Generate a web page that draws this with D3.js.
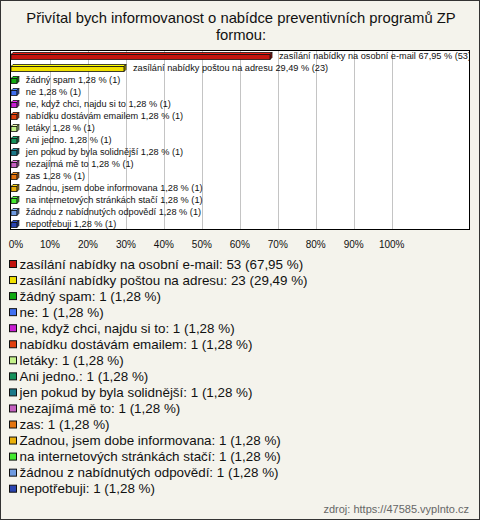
<!DOCTYPE html>
<html><head><meta charset="utf-8">
<script src="https://cdn.jsdelivr.net/npm/d3@7"></script>
<style>html,body{margin:0;padding:0;background:#f4f3ec;}svg{display:block;}</style>
</head><body>
<svg id="c" width="480" height="520"></svg>
<script>
const titleLines = ["Přivítal bych informovanost o nabídce preventivních programů ZP", "formou:"];
const categories = ["zasílání nabídky na osobní e-mail","zasílání nabídky poštou na adresu","žádný spam","ne","ne, když chci, najdu si to","nabídku dostávám emailem","letáky","Ani jedno.","jen pokud by byla solidnější","nezajímá mě to","zas","Zadnou, jsem dobe informovana","na internetových stránkách stačí","žádnou z nabídnutých odpovědí","nepotřebuji"];
const counts = [53,23,1,1,1,1,1,1,1,1,1,1,1,1,1];
const percents = [67.95,29.49,1.28,1.28,1.28,1.28,1.28,1.28,1.28,1.28,1.28,1.28,1.28,1.28,1.28];
const colors = ["#c3140e","#f0e000","#11aa11","#4070f0","#c81ed2","#e0400e","#c4f28a","#14905a","#1b7888","#c460c0","#e47410","#eab00a","#44e830","#6e9ae0","#2a44b0"];
const ticks = [0,10,20,30,40,50,60,70,80,90,100];
const source = "zdroj: https://47585.vyplnto.cz";

const fmt = v => v.toFixed(2).replace(".", ",");
const svg = d3.select("#c");
const font = "'Liberation Sans', Arial, sans-serif";

svg.append("rect").attr("x",0.5).attr("y",0.5).attr("width",479).attr("height",519)
  .attr("fill","#f4f3ec").attr("stroke","#333").attr("stroke-width",1);

svg.selectAll("text.title").data(titleLines).join("text").attr("class","title")
  .attr("x",241).attr("y",(d,i)=>22.8+i*16.7).attr("text-anchor","middle")
  .attr("font-family",font).attr("font-size",14.8).attr("fill","#111").text(d=>d);

const plot = {x0:10, y0:50, x1:470, y1:230};
const x = d3.scaleLinear().domain([0,100]).range([12,391.7]);
const y = d3.scaleBand().domain(d3.range(categories.length)).range([plot.y0,plot.y1]);

svg.append("defs").append("clipPath").attr("id","pc").append("rect")
  .attr("x",plot.x0).attr("y",plot.y0).attr("width",plot.x1-plot.x0).attr("height",plot.y1-plot.y0);

svg.append("rect").attr("x",plot.x0+0.5).attr("y",plot.y0+0.5)
  .attr("width",plot.x1-plot.x0-1).attr("height",plot.y1-plot.y0-1).attr("fill","#fff");

const g = svg.append("g").attr("clip-path","url(#pc)");
g.selectAll("line.grid").data(ticks.slice(1)).join("line").attr("class","grid")
  .attr("x1",d=>Math.round(x(d))+0.5).attr("x2",d=>Math.round(x(d))+0.5)
  .attr("y1",plot.y0).attr("y2",plot.y1).attr("stroke","#c4c4c4").attr("stroke-width",1);

const h = 5, dp = 2;
const bars = g.selectAll("g.bar").data(percents).join("g").attr("class","bar");
bars.each(function(p,i){
  const sel = d3.select(this);
  const c = d3.color(colors[i]);
  const xa = x(0)-1, xb = x(p);
  const yc = y(i)+y.bandwidth()/2;
  const yt = yc-h/2+1, yb = yc+h/2+1;
  sel.append("polygon").attr("points",[[xa,yt],[xa+dp,yt-dp],[xb+dp,yt-dp],[xb,yt]].join(" "))
    .attr("fill",c.brighter(0.6)).attr("stroke","#111").attr("stroke-width",0.8);
  sel.append("polygon").attr("points",[[xb,yt],[xb+dp,yt-dp],[xb+dp,yb-dp],[xb,yb]].join(" "))
    .attr("fill",c.darker(0.6)).attr("stroke","#111").attr("stroke-width",0.8);
  sel.append("rect").attr("x",xa).attr("y",yt).attr("width",xb-xa).attr("height",yb-yt)
    .attr("fill",c).attr("stroke","#111").attr("stroke-width",0.8);
  sel.append("text").attr("x",xb+dp+7).attr("y",yc+3.2)
    .attr("font-family",font).attr("font-size",9.2).attr("fill","#111")
    .text(categories[i]+" "+fmt(p)+" % ("+counts[i]+")");
});

svg.append("rect").attr("x",plot.x0+0.5).attr("y",plot.y0+0.5)
  .attr("width",plot.x1-plot.x0-1).attr("height",plot.y1-plot.y0-1)
  .attr("fill","none").attr("stroke","#000").attr("stroke-width",1);

svg.selectAll("text.tick").data(ticks).join("text").attr("class","tick")
  .attr("x",d=>d===0?x(d)+4:x(d)).attr("y",248).attr("text-anchor","middle")
  .attr("font-family",font).attr("font-size",10).attr("fill","#111").text(d=>d+"%");

const leg = svg.selectAll("g.leg").data(categories).join("g").attr("class","leg")
  .attr("transform",(d,i)=>`translate(0,${264+i*16.05})`);
leg.append("rect").attr("x",9.5).attr("y",-3.5).attr("width",7).attr("height",7)
  .attr("fill",(d,i)=>colors[i]).attr("stroke","#111").attr("stroke-width",1);
leg.append("text").attr("x",19.5).attr("y",4.7)
  .attr("font-family",font).attr("font-size",13.4).attr("fill","#111")
  .text((d,i)=>d+": "+counts[i]+" ("+fmt(percents[i])+" %)");

svg.append("text").attr("x",469).attr("y",513).attr("text-anchor","end")
  .attr("font-family",font).attr("font-size",11).attr("fill","#666").text(source);
</script>
</body></html>
